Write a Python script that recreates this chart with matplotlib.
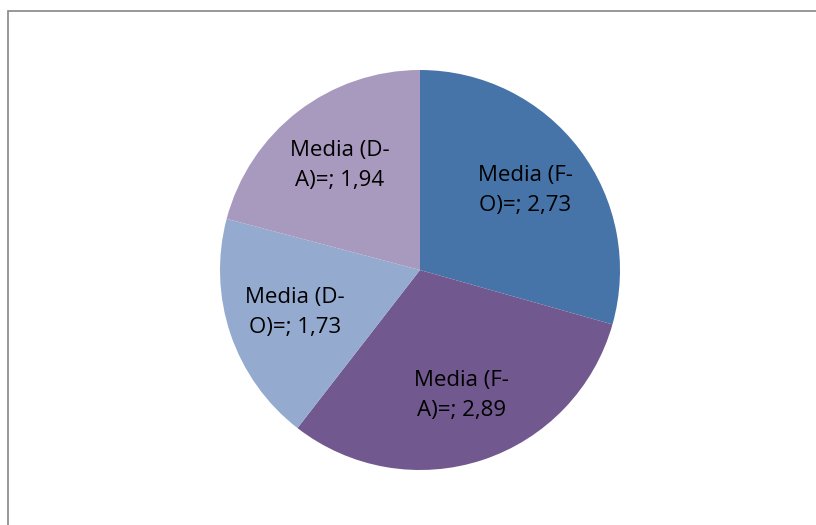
import matplotlib.pyplot as plt
from matplotlib.patches import Rectangle

labels = ['Media (F-\nO)=; 2,73', 'Media (F-\nA)=; 2,89', 'Media (D-\nO)=; 1,73', 'Media (D-\nA)=; 1,94']
values = [2.73, 2.89, 1.73, 1.94]
colors = ['#4674A8', '#71588F', '#94AACF', '#A89ABE']

plt.rcParams['font.family'] = ['Open Sans', 'DejaVu Sans']

fig = plt.figure(figsize=(8.16, 5.25), dpi=100)
# chart area border (clipped at right and bottom)
fig.patches.append(Rectangle((7.5 / 816, -0.1), 1.2, 1.1 - 10.5 / 525, transform=fig.transFigure,
                             fill=False, edgecolor='#868686', linewidth=1.2))

ax = fig.add_axes([(420 - 200) / 816, (525 - 270 - 200) / 525, 400 / 816, 400 / 525])
wedges, texts = ax.pie(values, labels=labels, colors=colors, startangle=90, counterclock=False,
                       labeldistance=0.66, textprops={'fontsize': 16, 'color': 'black'})
for t in texts:
    t.set_ha('center')
    t.set_va('center')
    t.set_linespacing(1.55)
ax.set_xlim(-1, 1)
ax.set_ylim(-1, 1)
ax.set_aspect('equal')

plt.savefig('out.png', dpi=100)
